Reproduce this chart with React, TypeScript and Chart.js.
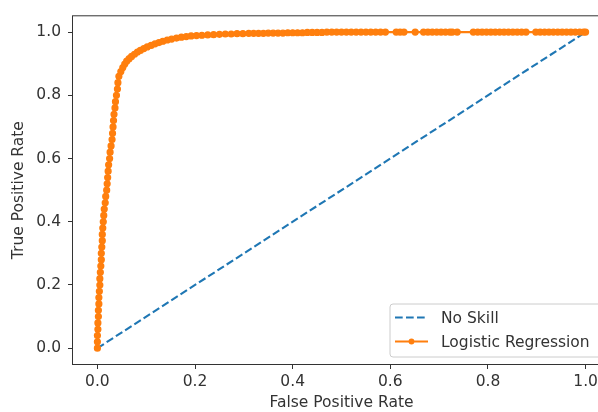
import React, { useEffect, useRef } from 'react';
import { Chart, registerables } from 'chart.js';

Chart.register(...registerables);

const xTickValues = [0, 0.2, 0.4, 0.6, 0.8, 1.0];
const yTickValues = [0, 0.2, 0.4, 0.6, 0.8, 1.0];
const seriesLabels = ['No Skill', 'Logistic Regression'];
const xTitle = 'False Positive Rate';
const yTitle = 'True Positive Rate';

const noSkillFpr = [0, 1];
const noSkillTpr = [0, 1];

const lrFpr = [
  0.000, 0.000, 0.000, 0.001, 0.001, 0.002, 0.002, 0.003, 0.003, 0.004,
  0.005, 0.005, 0.006, 0.007, 0.008, 0.008, 0.009, 0.010, 0.010, 0.011,
  0.012, 0.013, 0.014, 0.016, 0.017, 0.019, 0.020, 0.021, 0.022, 0.023,
  0.025, 0.026, 0.028, 0.030, 0.031, 0.032, 0.033, 0.034, 0.036, 0.037,
  0.039, 0.041, 0.042, 0.044, 0.048, 0.052, 0.056, 0.060, 0.065, 0.070,
  0.076, 0.082, 0.088, 0.095, 0.102, 0.110, 0.118, 0.126, 0.134, 0.143,
  0.152, 0.162, 0.172, 0.182, 0.192, 0.203, 0.214, 0.226, 0.238, 0.250,
  0.262, 0.274, 0.286, 0.298, 0.310, 0.320, 0.330, 0.340, 0.350, 0.360,
  0.370, 0.380, 0.390, 0.400, 0.410, 0.420, 0.430, 0.440, 0.450, 0.460,
  0.470, 0.480, 0.490, 0.500, 0.510, 0.520, 0.530, 0.540, 0.550, 0.560,
  0.570, 0.580, 0.590, 0.612, 0.620, 0.628, 0.651, 0.668, 0.677, 0.686,
  0.695, 0.704, 0.713, 0.722, 0.727, 0.737, 0.770, 0.779, 0.788, 0.797,
  0.806, 0.815, 0.824, 0.833, 0.842, 0.851, 0.860, 0.869, 0.878, 0.898,
  0.907, 0.916, 0.925, 0.934, 0.943, 0.952, 0.961, 0.970, 0.979, 0.988,
  0.996, 1.000,
];

const lrTpr = [
  0.000, 0.020, 0.040, 0.060, 0.080, 0.100, 0.120, 0.140, 0.160, 0.180,
  0.200, 0.220, 0.240, 0.260, 0.280, 0.300, 0.320, 0.340, 0.360, 0.380,
  0.400, 0.420, 0.440, 0.460, 0.480, 0.500, 0.520, 0.540, 0.560, 0.580,
  0.600, 0.620, 0.640, 0.660, 0.680, 0.700, 0.720, 0.740, 0.760, 0.780,
  0.800, 0.820, 0.840, 0.860, 0.875, 0.888, 0.899, 0.908, 0.916, 0.923,
  0.930, 0.937, 0.942, 0.948, 0.953, 0.958, 0.963, 0.967, 0.971, 0.975,
  0.978, 0.981, 0.984, 0.986, 0.988, 0.989, 0.990, 0.991, 0.992, 0.993,
  0.994, 0.994, 0.995, 0.995, 0.996, 0.996, 0.996, 0.996, 0.997, 0.997,
  0.997, 0.997, 0.998, 0.998, 0.998, 0.998, 0.999, 0.999, 0.999, 0.999,
  1.000, 1.000, 1.000, 1.000, 1.000, 1.000, 1.000, 1.000, 1.000, 1.000,
  1.000, 1.000, 1.000, 1.000, 1.000, 1.000, 1.000, 1.000, 1.000, 1.000,
  1.000, 1.000, 1.000, 1.000, 1.000, 1.000, 1.000, 1.000, 1.000, 1.000,
  1.000, 1.000, 1.000, 1.000, 1.000, 1.000, 1.000, 1.000, 1.000, 1.000,
  1.000, 1.000, 1.000, 1.000, 1.000, 1.000, 1.000, 1.000, 1.000, 1.000,
  1.000, 1.000,
];

const FONT = "'DejaVu Sans', sans-serif";
const FONT_SIZE = 15.5;
const TEXT = '#333333';
const BLUE = '#1f77b4';
const ORANGE = '#ff7f0e';

export default function App() {
  const ref = useRef<HTMLCanvasElement>(null);

  useEffect(() => {
    const canvas = ref.current;
    if (!canvas) return;

    const framePlugin = {
      id: 'mplFrame',
      afterDatasetsDraw(chart: any) {
        const { ctx, chartArea: ca } = chart;
        ctx.save();
        ctx.strokeStyle = TEXT;
        ctx.lineWidth = 1;
        ctx.strokeRect(ca.left - 0.5, ca.top - 0.5, ca.right - ca.left + 1, ca.bottom - ca.top + 1);
        ctx.restore();
      },
    };

    const legendPlugin = {
      id: 'mplLegend',
      afterDraw(chart: any) {
        const { ctx, chartArea: ca } = chart;
        const w = 213;
        const h = 53;
        const x0 = ca.right - 7 - w;
        const y0 = ca.bottom - 7 - h;
        ctx.save();
        const r = 3;
        ctx.beginPath();
        ctx.moveTo(x0 + r, y0);
        ctx.lineTo(x0 + w - r, y0);
        ctx.quadraticCurveTo(x0 + w, y0, x0 + w, y0 + r);
        ctx.lineTo(x0 + w, y0 + h - r);
        ctx.quadraticCurveTo(x0 + w, y0 + h, x0 + w - r, y0 + h);
        ctx.lineTo(x0 + r, y0 + h);
        ctx.quadraticCurveTo(x0, y0 + h, x0, y0 + h - r);
        ctx.lineTo(x0, y0 + r);
        ctx.quadraticCurveTo(x0, y0, x0 + r, y0);
        ctx.closePath();
        ctx.fillStyle = 'rgba(255,255,255,0.8)';
        ctx.fill();
        ctx.strokeStyle = '#cccccc';
        ctx.lineWidth = 1;
        ctx.stroke();

        const rows = [y0 + 13.5, y0 + 37.5];
        const ds = chart.data.datasets;
        ds.forEach((d: any, i: number) => {
          const y = rows[i];
          ctx.beginPath();
          ctx.strokeStyle = d.borderColor;
          ctx.lineWidth = d.borderWidth;
          ctx.setLineDash(d.borderDash || []);
          ctx.moveTo(x0 + 5, y);
          ctx.lineTo(x0 + 38, y);
          ctx.stroke();
          ctx.setLineDash([]);
          if (d.pointRadius > 0) {
            ctx.beginPath();
            ctx.fillStyle = d.backgroundColor;
            ctx.arc(x0 + 21.5, y, 2.9, 0, Math.PI * 2);
            ctx.fill();
          }
          ctx.fillStyle = TEXT;
          ctx.font = `${FONT_SIZE}px ${FONT}`;
          ctx.textAlign = 'left';
          ctx.textBaseline = 'middle';
          ctx.fillText(d.label, x0 + 51, y + 1);
        });
        ctx.restore();
      },
    };

    const tickFont = { family: FONT, size: FONT_SIZE };

    const chart = new Chart(canvas, {
      type: 'scatter',
      data: {
        datasets: [
          {
            label: seriesLabels[0],
            data: noSkillFpr.map((x, i) => ({ x, y: noSkillTpr[i] })),
            showLine: true,
            borderColor: BLUE,
            backgroundColor: BLUE,
            borderWidth: 2.1,
            borderDash: [7.7, 3.3],
            pointRadius: 0,
            order: 2,
          } as any,
          {
            label: seriesLabels[1],
            data: lrFpr.map((x, i) => ({ x, y: lrTpr[i] })),
            showLine: true,
            borderColor: ORANGE,
            backgroundColor: ORANGE,
            borderWidth: 2.1,
            pointRadius: 2.9,
            pointBorderWidth: 1.4,
            pointBorderColor: ORANGE,
            pointBackgroundColor: ORANGE,
            order: 1,
          } as any,
        ],
      },
      options: {
        animation: false,
        responsive: false,
        devicePixelRatio: 1,
        layout: { padding: { top: 15, right: 10, left: 0, bottom: 0 } },
        plugins: { legend: { display: false }, tooltip: { enabled: false } },
        scales: {
          x: {
            type: 'linear',
            min: -0.05,
            max: 1.05,
            afterBuildTicks: (s: any) => {
              s.ticks = xTickValues.map((v) => ({ value: v }));
            },
            afterFit: (s: any) => {
              s.height = 48;
            },
            grid: { display: true, drawOnChartArea: false, drawTicks: true, tickLength: 5, color: TEXT, lineWidth: 1 },
            border: { display: false },
            ticks: {
              padding: 4,
              color: TEXT,
              font: tickFont,
              autoSkip: false,
              maxRotation: 0,
              callback: (v: any) => Number(v).toFixed(1),
            },
            title: { display: true, text: xTitle, color: TEXT, font: tickFont, padding: { top: 0, bottom: 0 } },
          },
          y: {
            type: 'linear',
            min: -0.05,
            max: 1.05,
            afterBuildTicks: (s: any) => {
              s.ticks = yTickValues.map((v) => ({ value: v }));
            },
            afterFit: (s: any) => {
              s.width = 73;
            },
            grid: { display: true, drawOnChartArea: false, drawTicks: true, tickLength: 5, color: TEXT, lineWidth: 1 },
            border: { display: false },
            ticks: {
              padding: 7,
              color: TEXT,
              font: tickFont,
              autoSkip: false,
              callback: (v: any) => Number(v).toFixed(1),
            },
            title: { display: true, text: yTitle, color: TEXT, font: tickFont, padding: { top: 10, bottom: 0 } },
          },
        },
      },
      plugins: [framePlugin, legendPlugin],
    });

    return () => {
      chart.destroy();
    };
  }, []);

  return (
    <div style={{ position: 'fixed', left: 0, top: 0, width: 598, height: 412, overflow: 'hidden', background: '#fff' }}>
      <canvas ref={ref} width={620} height={412} style={{ display: 'block', width: 620, height: 412 }} />
    </div>
  );
}
